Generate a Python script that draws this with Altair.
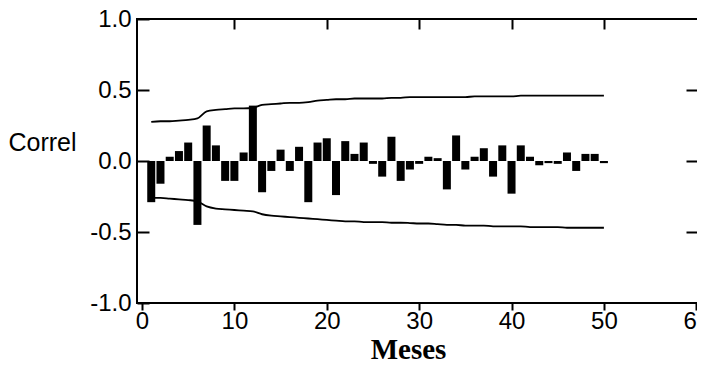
import altair as alt
import pandas as pd

# Lags (months) and autocorrelation values
lags = list(range(1, 51))
acf = [-0.29, -0.16, 0.03, 0.07, 0.13, -0.45, 0.25, 0.11, -0.14, -0.14,
       0.06, 0.39, -0.22, -0.07, 0.08, -0.07, 0.10, -0.29, 0.13, 0.16,
       -0.24, 0.14, 0.05, 0.13, -0.02, -0.11, 0.17, -0.14, -0.06, -0.02,
       0.03, 0.02, -0.20, 0.18, -0.06, 0.03, 0.09, -0.11, 0.11, -0.23,
       0.11, 0.03, -0.03, -0.015, -0.02, 0.06, -0.07, 0.05, 0.05, -0.015]

upper = [0.275, 0.28, 0.28, 0.285, 0.29, 0.30, 0.35, 0.36, 0.365, 0.37,
         0.37, 0.375, 0.395, 0.40, 0.405, 0.41, 0.41, 0.415, 0.425, 0.43,
         0.435, 0.435, 0.44, 0.44, 0.44, 0.44, 0.445, 0.445, 0.45, 0.45,
         0.45, 0.45, 0.45, 0.45, 0.45, 0.455, 0.455, 0.455, 0.455, 0.455,
         0.46, 0.46, 0.46, 0.46, 0.46, 0.46, 0.46, 0.46, 0.46, 0.46]

lower = [-0.26, -0.26, -0.265, -0.27, -0.275, -0.285, -0.32, -0.335, -0.34, -0.345,
         -0.35, -0.355, -0.375, -0.385, -0.39, -0.395, -0.40, -0.405, -0.41, -0.415,
         -0.42, -0.425, -0.425, -0.43, -0.43, -0.43, -0.435, -0.435, -0.437, -0.44,
         -0.44, -0.445, -0.45, -0.45, -0.455, -0.455, -0.455, -0.46, -0.46, -0.46,
         -0.46, -0.465, -0.465, -0.465, -0.465, -0.47, -0.47, -0.47, -0.47, -0.47]

x_ticks = [0, 10, 20, 30, 40, 50, 60]
y_ticks = [-1.0, -0.5, 0.0, 0.5, 1.0]
top_ticks = [10, 20, 30, 40, 50]
right_ticks = [-0.5, 0.0, 0.5]

bars = pd.DataFrame({"lag": lags, "acf": acf, "base": [0.0] * len(lags)})
bands = pd.DataFrame({
    "lag": lags + lags,
    "value": upper + lower,
    "band": ["upper"] * len(lags) + ["lower"] * len(lags),
})

xscale = alt.Scale(domain=[0, 60.4], nice=False, zero=False)
yscale = alt.Scale(domain=[-1, 1], nice=False)

bar_layer = alt.Chart(bars).mark_bar(size=8, color="black").encode(
    x=alt.X("lag:Q", scale=xscale,
            axis=alt.Axis(orient="bottom", values=x_ticks, format="d", domain=False,
                          tickSize=7, labelPadding=-1, labelFontSize=24,
                          labelFont="Liberation Sans", labelColor="black",
                          labelFlush=True, grid=False,
                          title="Meses", titleFont="Liberation Serif",
                          titleFontWeight="bold", titleFontSize=29,
                          titleColor="black", titleX=271, titleY=55,
                          titleAlign="center", titleBaseline="alphabetic")),
    y=alt.Y("acf:Q", scale=yscale,
            axis=alt.Axis(orient="left", values=y_ticks, domain=False,
                          labelExpr="replace(format(datum.value, '.1f'), '\u2212', '-')",
                          tickSize=12, offset=-12, labelPadding=6,
                          labelFontSize=24, labelFont="Liberation Sans",
                          labelColor="black", grid=False,
                          title="Correl", titleAngle=0, titleX=-107, titleY=123,
                          titleAlign="center", titleBaseline="middle",
                          titleFont="Liberation Sans", titleFontSize=25,
                          titleFontWeight="normal", titleColor="black")),
    y2="base:Q",
)

band_layer = alt.Chart(bands).mark_line(color="black", strokeWidth=1.8,
                                         interpolate="monotone").encode(
    x=alt.X("lag:Q", scale=xscale,
            axis=alt.Axis(orient="top", values=top_ticks, labels=False, domain=False,
                          tickSize=10, offset=-10, grid=False, title=None)),
    y=alt.Y("value:Q", scale=yscale,
            axis=alt.Axis(orient="right", values=right_ticks, labels=False,
                          domain=False, tickSize=12, offset=-19, grid=False,
                          title=None)),
    detail="band:N",
)

chart = alt.layer(bar_layer, band_layer).resolve_axis(
    x="independent", y="independent"
).properties(
    width=568,
    height=284,
    padding={"left": 129, "top": 11, "right": -8, "bottom": 57},
    autosize=alt.AutoSizeParams(type="none"),
    background="white",
).configure_view(
    stroke="black", strokeWidth=2
).configure_axis(
    tickColor="black", tickWidth=2
)

chart.save("out.html", embed_options={"renderer": "svg", "actions": False})
